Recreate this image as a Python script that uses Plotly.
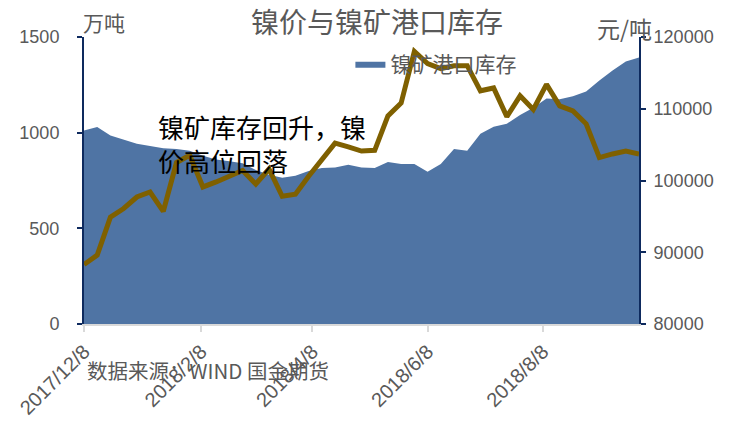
import plotly.graph_objects as go

# Weekly observation dates
dates = [
    "2017-12-08", "2017-12-15", "2017-12-22", "2017-12-29",
    "2018-01-05", "2018-01-12", "2018-01-19", "2018-01-26",
    "2018-02-02", "2018-02-09", "2018-02-16", "2018-02-23",
    "2018-03-02", "2018-03-09", "2018-03-16", "2018-03-23", "2018-03-30",
    "2018-04-06", "2018-04-13", "2018-04-20", "2018-04-27",
    "2018-05-04", "2018-05-11", "2018-05-18", "2018-05-25",
    "2018-06-01", "2018-06-08", "2018-06-15", "2018-06-22", "2018-06-29",
    "2018-07-06", "2018-07-13", "2018-07-20", "2018-07-27",
    "2018-08-03", "2018-08-10", "2018-08-17", "2018-08-24", "2018-08-31",
    "2018-09-07", "2018-09-14", "2018-09-21", "2018-09-28",
]

# 镍矿港口库存 (万吨)
inventory = [
    1011, 1029, 985, 964, 942, 930, 919, 915,
    905, 880, 860, 850, 840, 805, 780, 765, 775,
    800, 815, 818, 832, 818, 815, 847, 836,
    836, 796, 836, 915, 906, 994, 1031, 1047, 1092,
    1130, 1178, 1175, 1190, 1215, 1273, 1325, 1372, 1393,
]

# 镍价 (元/吨)
nickel_price = [
    88300, 89600, 94900, 96100, 97700, 98400, 95700, 102500,
    103500, 99100, 99800, 100600, 101400, 99500, 101600, 97800, 98100,
    100600, 103000, 105200, 104700, 104100, 104200, 109000, 110800,
    118000, 116300, 115600, 116000, 116000, 112500, 112900, 108900, 111800,
    109900, 113400, 110400, 109700, 107900, 103200, 103700, 104100, 103700,
]

tick_dates = ["2017-12-08", "2018-02-08", "2018-04-08", "2018-06-08", "2018-08-08"]
tick_labels = ["2017/12/8", "2018/2/8", "2018/4/8", "2018/6/8", "2018/8/8"]

CJK = "Noto Sans CJK SC"
NUM = "Liberation Sans, Arial"
GRAY = "#595959"
NAVY = "#0e2a5e"

fig = go.Figure()
fig.add_trace(go.Scatter(
    x=dates, y=inventory, name="镍矿港口库存",
    mode="lines", line=dict(width=0, color="#4f74a4"),
    fill="tozeroy", fillcolor="#4f74a4", yaxis="y",
))
fig.add_trace(go.Scatter(
    x=dates, y=nickel_price, name="镍价",
    mode="lines", line=dict(width=5, color="#7f6000"),
    yaxis="y2", showlegend=False,
))

fig.update_layout(
    width=736, height=423,
    margin=dict(l=84, r=97, t=37, b=99, autoexpand=False),
    paper_bgcolor="white", plot_bgcolor="white",
    xaxis=dict(
        type="date", range=["2017-12-08", "2018-09-28"],
        tickvals=tick_dates, ticktext=tick_labels, tickangle=-45,
        showline=True, linecolor="#d9d9d9", linewidth=2,
        ticks="outside", tickcolor="#d9d9d9", ticklen=6, tickwidth=2,
        showgrid=False, zeroline=False, automargin=False,
        tickfont=dict(family=NUM, size=20, color=GRAY),
    ),
    yaxis=dict(
        range=[0, 1500], tickvals=[0, 500, 1000, 1500],
        showline=True, linecolor=NAVY, linewidth=2,
        ticks="outside", tickcolor=NAVY, ticklen=5, tickwidth=2,
        ticklabelstandoff=14, automargin=False,
        showgrid=False, zeroline=False,
        tickfont=dict(family=NUM, size=18, color=GRAY),
    ),
    yaxis2=dict(
        range=[80000, 120000], tickvals=[80000, 90000, 100000, 110000, 120000],
        tickformat="d",
        overlaying="y", side="right",
        showline=True, linecolor=NAVY, linewidth=2,
        ticks="outside", tickcolor=NAVY, ticklen=5, tickwidth=2,
        ticklabelstandoff=4, automargin=False,
        showgrid=False, zeroline=False,
        tickfont=dict(family=NUM, size=18, color=GRAY),
    ),
    legend=dict(x=0.48, xanchor="left", y=0.906, yanchor="middle",
                bgcolor="rgba(0,0,0,0)", font=dict(family=CJK, size=21, color=GRAY)),
    showlegend=True,
)

fig.add_annotation(text="镍价与镍矿港口库存", xref="paper", yref="paper",
                   x=(377 - 84) / 555, y=(324 - 21) / 287, xanchor="center", yanchor="middle",
                   showarrow=False, font=dict(family=CJK, size=28, color=GRAY))
fig.add_annotation(text="万吨", xref="paper", yref="paper", x=(81 - 84) / 555, y=(324 - 22) / 287,
                   xanchor="left", yanchor="middle", showarrow=False,
                   font=dict(family=CJK, size=21, color=GRAY))
fig.add_annotation(text="元/吨", xref="paper", yref="paper", x=(595 - 84) / 555, y=(324 - 28) / 287,
                   xanchor="left", yanchor="middle", showarrow=False,
                   font=dict(family=CJK, size=23, color=GRAY))
fig.add_annotation(text="镍矿库存回升，镍<br>价高位回落", xref="paper", yref="paper",
                   x=(156 - 84) / 555, y=(324 - 143) / 287, xanchor="left", yanchor="middle",
                   align="left", showarrow=False,
                   font=dict(family=CJK, size=26, color="black"))
fig.add_annotation(text="数据来源：WIND 国金期货", xref="paper", yref="paper",
                   x=(85 - 84) / 555, y=(324 - 370) / 287, xanchor="left", yanchor="middle",
                   showarrow=False, font=dict(family=CJK, size=20.5, color=GRAY))

fig.write_html("out.html", config={"displayModeBar": False},
               post_script="document.body.style.margin='0';")
